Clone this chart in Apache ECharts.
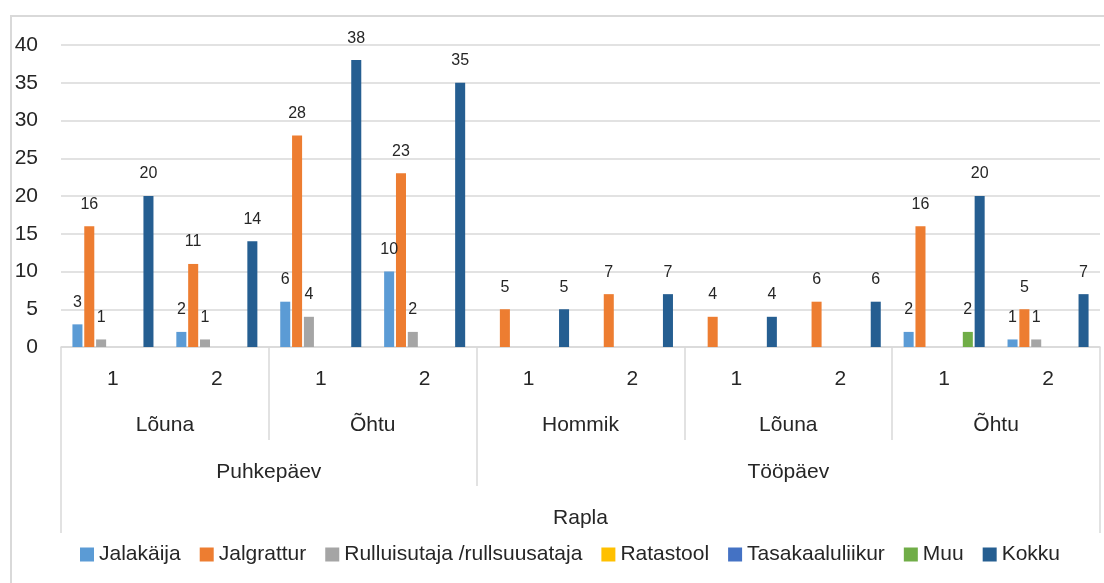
<!DOCTYPE html>
<html>
<head>
<meta charset="utf-8">
<script src="https://cdn.jsdelivr.net/npm/echarts@6/dist/echarts.min.js"></script>
<style>
  html, body { margin: 0; padding: 0; background: #fff; overflow: hidden; }
  #frame { position: absolute; left: 10px; top: 15px; width: 1300px; height: 800px; border: 2px solid #d9d9d9; }
  #chart { position: absolute; left: 0; top: 0; width: 1104px; height: 583px; }
</style>
</head>
<body>
<div id="frame"></div>
<div id="chart"></div>
<script>
  // leaf categories and the grouping tiers under them
  const categories = ['1', '2', '1', '2', '1', '2', '1', '2', '1', '2'];
  const periods = ['Lõuna', 'Õhtu', 'Hommik', 'Lõuna', 'Õhtu'];
  const periodSpans = [2, 2, 2, 2, 2];
  const dayTypes = ['Puhkepäev', 'Tööpäev'];
  const dayTypeSpans = [4, 6];
  const places = ['Rapla'];
  const placeSpans = [10];

  const seriesNames = [
    'Jalakäija', 'Jalgrattur', 'Rulluisutaja /rullsuusataja', 'Ratastool',
    'Tasakaaluliikur', 'Muu', 'Kokku'
  ];
  const jalakaija = [3, 2, 6, 10, null, null, null, null, 2, 1];
  const jalgrattur = [16, 11, 28, 23, 5, 7, 4, 6, 16, 5];
  const rulluisutaja = [1, 1, 4, 2, null, null, null, null, null, 1];
  const ratastool = [null, null, null, null, null, null, null, null, null, null];
  const tasakaaluliikur = [null, null, null, null, null, null, null, null, null, null];
  const muu = [null, null, null, null, null, null, null, null, 2, null];
  const kokku = [20, 14, 38, 35, 5, 7, 4, 6, 20, 7];

  const yTicks = [0, 5, 10, 15, 20, 25, 30, 35, 40];

  const colors = ['#5b9bd5', '#ed7d31', '#a5a5a5', '#ffc000', '#4472c4', '#70ad47', '#255e91'];
  const FONT = '"Liberation Sans", Arial, sans-serif';
  const TEXT = '#262626';
  const LINE = '#d9d9d9';

  // one row of the multi-level axis: separators at group edges, name centred in the group
  const tierAxis = (names, spans, tickLength, labelMargin) => {
    const edges = [0];
    spans.forEach(s => edges.push(edges[edges.length - 1] + s));
    const centers = spans.map((s, i) => edges[i] + s / 2);
    return {
      type: 'value',
      gridIndex: 0,
      position: 'bottom',
      min: 0,
      max: edges[edges.length - 1],
      axisLine: { show: false, onZero: false },
      splitLine: { show: false },
      axisTick: {
        show: true,
        customValues: edges,
        length: tickLength,
        lineStyle: { color: LINE, width: 1.5 }
      },
      axisLabel: {
        customValues: centers,
        formatter: v => names[centers.indexOf(v)] || '',
        margin: labelMargin,
        fontFamily: FONT,
        fontSize: 21,
        lineHeight: 21,
        color: TEXT
      }
    };
  };

  const allData = [jalakaija, jalgrattur, rulluisutaja, ratastool, tasakaaluliikur, muu, kokku];

  const chart = echarts.init(document.getElementById('chart'));

  chart.setOption({
    animation: false,
    color: colors,
    grid: { left: 61, right: 4, top: 45, bottom: 236, containLabel: false },
    legend: {
      left: 80,
      top: 544,
      padding: 0,
      icon: 'rect',
      itemWidth: 14,
      itemHeight: 14,
      itemGap: 19,
      itemStyle: { borderWidth: 0 },
      textStyle: { fontFamily: FONT, fontSize: 21, lineHeight: 21, color: TEXT },
      data: seriesNames
    },
    xAxis: [
      {
        type: 'category',
        position: 'bottom',
        data: categories,
        axisLine: { show: true, onZero: false, lineStyle: { color: LINE, width: 1.5 } },
        axisTick: { show: false },
        axisLabel: {
          interval: 0,
          margin: 22,
          fontFamily: FONT,
          fontSize: 21,
          lineHeight: 21,
          color: TEXT
        }
      },
      tierAxis(periods, periodSpans, 93, 68),
      tierAxis(dayTypes, dayTypeSpans, 139, 115),
      tierAxis(places, placeSpans, 186, 161)
    ],
    yAxis: {
      type: 'value',
      min: yTicks[0],
      max: yTicks[yTicks.length - 1],
      interval: yTicks[1] - yTicks[0],
      axisLine: { show: false },
      axisTick: { show: false },
      splitLine: { lineStyle: { color: LINE, width: 1.5 } },
      axisLabel: { margin: 23, fontFamily: FONT, fontSize: 21, color: TEXT }
    },
    series: seriesNames.map((name, i) => ({
      name,
      type: 'bar',
      xAxisIndex: 0,
      data: allData[i],
      barGap: '18%',
      barCategoryGap: '22%',
      label: {
        show: true,
        position: 'top',
        distance: 14,
        fontFamily: FONT,
        fontSize: 16,
        color: TEXT
      }
    }))
  });
</script>
</body>
</html>
